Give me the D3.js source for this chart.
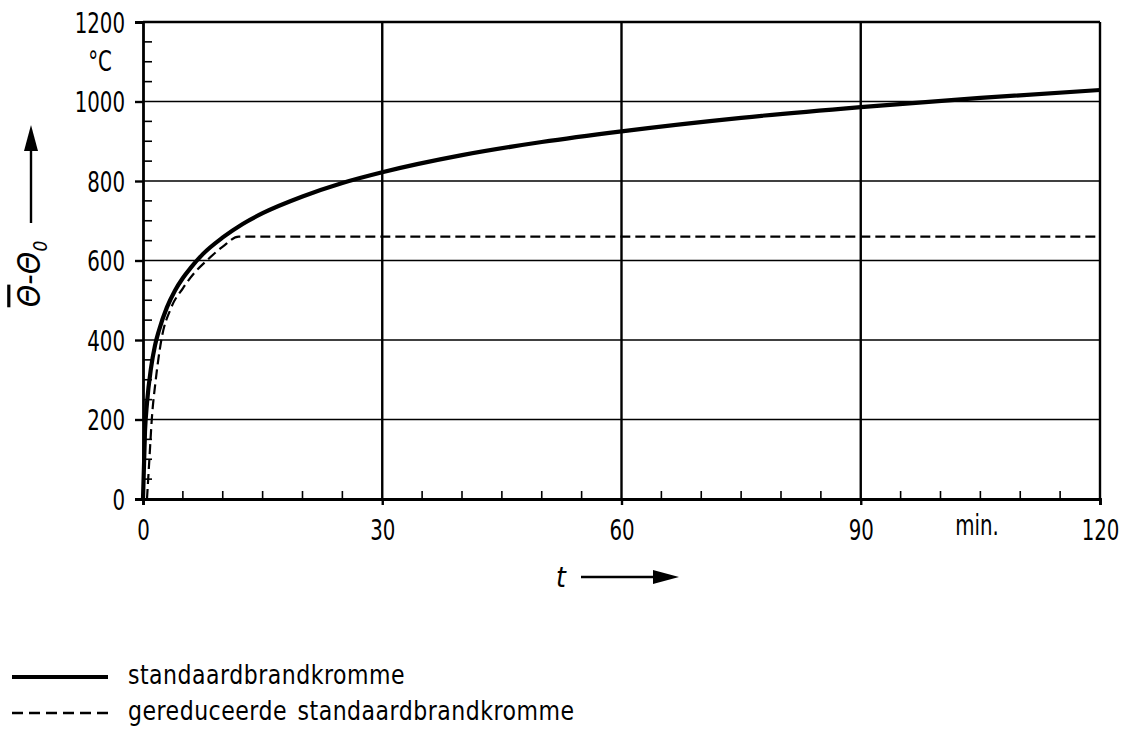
<!DOCTYPE html>
<html>
<head>
<meta charset="utf-8">
<script src="https://cdn.jsdelivr.net/npm/d3@7"></script>
<style>
  body { margin: 0; background: #fff; }
  svg text { font-family: "DejaVu Sans Condensed", "Liberation Sans Narrow", "DejaVu Sans", sans-serif; fill: #000; }
</style>
</head>
<body>
<svg id="chart" width="1123" height="731"></svg>
<script>
// standaardbrandkromme (min, °C boven begintemperatuur)
var stdT = [0, 0.25, 0.5, 1, 1.5, 2, 3, 4, 5, 6, 7.5, 10, 12.5, 15, 20, 25, 30, 40, 50, 60, 75, 90, 105, 120];
var stdV = [0, 170, 241, 329, 386, 424, 482, 524, 556, 582, 616, 658, 692, 719, 761, 795, 822, 865, 898, 925, 959, 986, 1009, 1029];
// gereduceerde standaardbrandkromme
var redT = [0.5, 0.8, 1.1, 1.6, 2.3, 3.5, 5, 6.5, 8, 10, 12, 120];
var redV = [0, 100, 200, 300, 400, 480, 530, 570, 600, 635, 660, 660];

var yTicks = [0, 200, 400, 600, 800, 1000, 1200];
var xTicks = [0, 30, 60, 90, 120];
var legendLabels = ["standaardbrandkromme", "gereduceerde standaardbrandkromme"];

var svg = d3.select("#chart");
var x = d3.scaleLinear().domain([0, 120]).range([143, 1100]);
var y = d3.scaleLinear().domain([0, 1200]).range([499, 22]);

// rasterlijnen
svg.append("g").selectAll("line")
  .data(yTicks.slice(1))
  .enter().append("line")
  .attr("x1", x(0)).attr("x2", x(120))
  .attr("y1", function (d) { return y(d); }).attr("y2", function (d) { return y(d); })
  .attr("stroke", "#000")
  .attr("stroke-width", function (d) { return d == 1200 ? 2.5 : 1.7; });

svg.append("g").selectAll("line")
  .data(xTicks.slice(1))
  .enter().append("line")
  .attr("x1", function (d) { return x(d); }).attr("x2", function (d) { return x(d); })
  .attr("y1", y(0)).attr("y2", y(1200))
  .attr("stroke", "#000")
  .attr("stroke-width", 2.4);

// kleine streepjes
svg.append("g").selectAll("line")
  .data(d3.range(0, 1200, 50).filter(function (d) { return d % 200 != 0; }))
  .enter().append("line")
  .attr("x1", x(0)).attr("x2", x(0) + 9)
  .attr("y1", function (d) { return y(d); }).attr("y2", function (d) { return y(d); })
  .attr("stroke", "#000").attr("stroke-width", 1.6);

svg.append("g").selectAll("line")
  .data(d3.range(5, 120, 5).filter(function (d) { return d % 30 != 0; }))
  .enter().append("line")
  .attr("x1", function (d) { return x(d); }).attr("x2", function (d) { return x(d); })
  .attr("y1", y(0)).attr("y2", y(0) - 8)
  .attr("stroke", "#000").attr("stroke-width", 1.6);

// assen
var yAxis = svg.append("g")
  .attr("transform", "translate(" + x(0) + ",0)")
  .call(d3.axisLeft(y).tickValues(yTicks).tickSize(8).tickPadding(10).tickFormat(d3.format("d")));
var xAxis = svg.append("g")
  .attr("transform", "translate(0," + y(0) + ")")
  .call(d3.axisBottom(x).tickValues(xTicks).tickSize(6).tickPadding(6).tickFormat(d3.format("d")));

[yAxis, xAxis].forEach(function (a) {
  a.select(".domain").attr("stroke", "#000").attr("stroke-width", 2.8);
  a.selectAll(".tick line").attr("stroke", "#000").attr("stroke-width", 2.4);
  a.selectAll(".tick text").attr("font-size", 22).attr("fill", "#000")
    .style("font-family", "'DejaVu Sans Condensed', 'Liberation Sans Narrow', sans-serif")
    .attr("transform", "scale(1,1.28)");
});
yAxis.selectAll(".tick text").attr("dy", "0.36em");
xAxis.selectAll(".tick text").attr("dy", "0.9em");

svg.append("text").attr("transform", "translate(100,71) scale(1,1.25)").attr("text-anchor", "middle")
  .attr("font-size", 22).text("°C");
svg.append("text").attr("transform", "translate(977,535) scale(1,1.28)").attr("text-anchor", "middle")
  .attr("font-size", 22).text("min.");

// krommen
var line = d3.line()
  .x(function (d) { return x(d[0]); })
  .y(function (d) { return y(d[1]); })
  .curve(d3.curveMonotoneX);

svg.append("path")
  .datum(d3.zip(stdT, stdV))
  .attr("d", line)
  .attr("fill", "none").attr("stroke", "#000").attr("stroke-width", 4.2);

svg.append("path")
  .datum(d3.zip(redT, redV))
  .attr("d", line)
  .attr("fill", "none").attr("stroke", "#000").attr("stroke-width", 2.2)
  .attr("stroke-dasharray", "10,5");

// aslabels met pijlen
var yl = svg.append("g").attr("transform", "translate(29,274) rotate(-90)");
yl.append("text").attr("text-anchor", "middle").attr("font-size", 32)
  .attr("font-style", "italic").attr("dy", "0.35em")
  .html("<tspan text-decoration='overline'>Θ</tspan>-Θ<tspan font-size='19' dy='7'>0</tspan>");
svg.append("line").attr("x1", 31).attr("x2", 31).attr("y1", 223).attr("y2", 148)
  .attr("stroke", "#000").attr("stroke-width", 2.4);
svg.append("path").attr("d", "M31,125 L24,151 L38,151 Z").attr("fill", "#000");

svg.append("text").attr("x", 561).attr("y", 587).attr("text-anchor", "middle")
  .attr("font-size", 28).attr("font-style", "italic").text("t");
svg.append("line").attr("x1", 581).attr("x2", 656).attr("y1", 577).attr("y2", 577)
  .attr("stroke", "#000").attr("stroke-width", 2.6);
svg.append("path").attr("d", "M679,577 L653,570 L653,584 Z").attr("fill", "#000");

// legenda
var legend = svg.append("g");
legend.selectAll("line")
  .data(legendLabels)
  .enter().append("line")
  .attr("x1", 12).attr("x2", 108)
  .attr("y1", function (d, i) { return 677 + i * 36; })
  .attr("y2", function (d, i) { return 677 + i * 36; })
  .attr("stroke", "#000")
  .attr("stroke-width", function (d, i) { return i == 0 ? 4 : 2.4; })
  .attr("stroke-dasharray", function (d, i) { return i == 0 ? null : "11,6"; });
legend.selectAll("text")
  .data(legendLabels)
  .enter().append("text")
  .attr("transform", function (d, i) { return "translate(128," + (684 + i * 36) + ") scale(1,1.1)"; })
  .attr("font-size", 24.5)
  .attr("letter-spacing", 0.5)
  .attr("word-spacing", 3)
  .text(function (d) { return d; });
</script>
</body>
</html>
